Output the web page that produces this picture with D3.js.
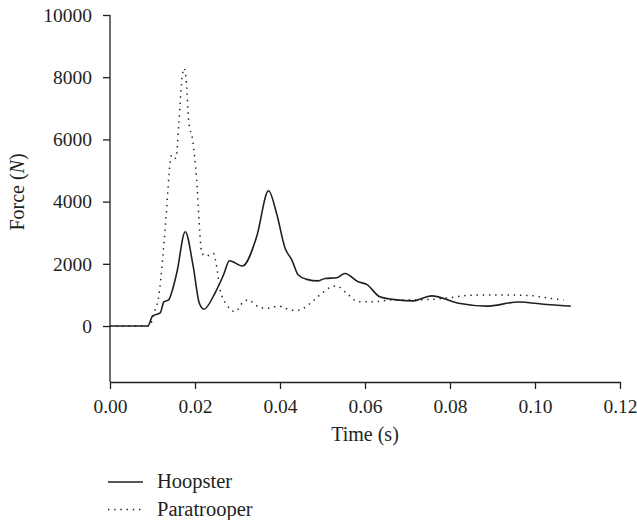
<!DOCTYPE html>
<html>
<head>
<meta charset="utf-8">
<script src="https://cdn.jsdelivr.net/npm/d3@7"></script>
<style>
  body { margin: 0; background: #fff; }
  text { font-family: "Liberation Serif", "DejaVu Serif", serif; fill: #231f20; }
</style>
</head>
<body>
<div id="chart"></div>
<script>
// time (s) and force (N)
const hoopsterTime = [0, 0.0089, 0.0100, 0.0118, 0.0127, 0.0137, 0.0157, 0.0177, 0.0196, 0.0210, 0.0221,
  0.0247, 0.0267, 0.0281, 0.0312, 0.0345, 0.0373, 0.0392, 0.0412, 0.0428, 0.0443, 0.0463, 0.0490,
  0.0506, 0.0533, 0.0553, 0.0584, 0.0604, 0.0635, 0.0675, 0.0714, 0.0757, 0.0820, 0.0886, 0.0961,
  0.1020, 0.1084]
const hoopsterForce = [0, 0, 320, 420, 780, 830, 1700, 3030, 1900, 740, 540,
  1060, 1640, 2100, 1930, 2870, 4350, 3620, 2500, 2120, 1640, 1500, 1450,
  1530, 1550, 1690, 1420, 1340, 940, 840, 810, 970, 730, 640, 770,
  700, 640]

const paraTime = [0, 0.0092, 0.0106, 0.0114, 0.0125, 0.0133, 0.0141, 0.0145, 0.0155, 0.0162, 0.0169,
  0.0174, 0.0180, 0.0185, 0.0195, 0.0204, 0.0212, 0.0216, 0.0227, 0.0243, 0.0251, 0.0259, 0.0275,
  0.0294, 0.0314, 0.0325, 0.0349, 0.0369, 0.0396, 0.0428, 0.0443, 0.0471, 0.0494, 0.0518, 0.0533,
  0.0557, 0.0584, 0.0620, 0.0667, 0.0714, 0.0761, 0.0804, 0.0847, 0.0925, 0.0988, 0.1035, 0.1067]
const paraForce = [0, 0, 510, 890, 2340, 3730, 5180, 5500, 5390, 6520, 7910,
  8290, 7800, 6620, 5930, 4690, 2870, 2340, 2250, 2340, 1910, 1160, 680,
  460, 780, 840, 620, 570, 640, 510, 510, 730, 1000, 1240, 1290,
  1050, 780, 780, 840, 840, 860, 920, 990, 1000, 980, 890, 840]

const xTicks = [0, 0.02, 0.04, 0.06, 0.08, 0.10, 0.12]
const yTicks = [0, 2000, 4000, 6000, 8000, 10000]
const seriesNames = ["Hoopster", "Paratrooper"]

const width = 637, height = 520
const margin = { top: 15, right: 17, bottom: 138, left: 110 }
const ink = "#231f20"

const svg = d3.select("#chart")
  .append("svg")
  .attr("width", width)
  .attr("height", height)

const x = d3.scaleLinear().domain([0, 0.12]).range([margin.left, width - margin.right])
const y = d3.scaleLinear().domain([-1800, 10000]).range([height - margin.bottom, margin.top])

const xAxis = svg.append("g")
  .attr("transform", "translate(0," + y(-1800) + ")")
  .call(d3.axisBottom(x).tickValues(xTicks).tickFormat(d3.format(".2f")).tickSize(7).tickSizeOuter(0))

const yAxis = svg.append("g")
  .attr("transform", "translate(" + x(0) + ",0)")
  .call(d3.axisLeft(y).tickValues(yTicks).tickFormat(d => d).tickSize(7).tickSizeOuter(0))

svg.selectAll(".domain, .tick line").attr("stroke", ink).attr("stroke-width", 1.3)
svg.selectAll(".tick text").attr("font-size", 19.5).attr("font-family", null).style("fill", ink)
xAxis.selectAll(".tick text").attr("dy", "0.95em").attr("y", 12)
yAxis.selectAll(".tick text").attr("x", -18)

// the y domain runs to the x axis, no tick there
yAxis.select(".domain").attr("d", "M0," + y(10000) + "V" + y(-1800))

svg.append("text")
  .attr("x", x(0.06))
  .attr("y", 441)
  .attr("text-anchor", "middle")
  .attr("font-size", 20)
  .text("Time (s)")

const yLabel = svg.append("text")
  .attr("transform", "translate(24,192) rotate(-90)")
  .attr("text-anchor", "middle")
  .attr("font-size", 20)
yLabel.append("tspan").text("Force (")
yLabel.append("tspan").attr("font-style", "italic").text("N")
yLabel.append("tspan").text(")")

const line = d3.line()
  .x(d => x(d[0]))
  .y(d => y(d[1]))
  .curve(d3.curveMonotoneX)

svg.append("path")
  .datum(d3.zip(paraTime, paraForce))
  .attr("fill", "none")
  .attr("stroke", ink)
  .attr("stroke-width", 1.5)
  .attr("stroke-dasharray", "1.4 4.8")
  .attr("d", line)

svg.append("path")
  .datum(d3.zip(hoopsterTime, hoopsterForce))
  .attr("fill", "none")
  .attr("stroke", ink)
  .attr("stroke-width", 1.6)
  .attr("d", line)

// legend
const legend = svg.append("g")
seriesNames.forEach(function (name, i) {
  const ly = 482 + i * 27.5
  legend.append("line")
    .attr("x1", 108).attr("x2", 143)
    .attr("y1", ly).attr("y2", ly)
    .attr("stroke", ink)
    .attr("stroke-width", i == 0 ? 1.5 : 1.4)
    .attr("stroke-dasharray", i == 0 ? null : "1.4 4.8")
  legend.append("text")
    .attr("x", 157)
    .attr("y", ly + 6)
    .attr("font-size", 20.5)
    .text(name)
})
</script>
</body>
</html>
